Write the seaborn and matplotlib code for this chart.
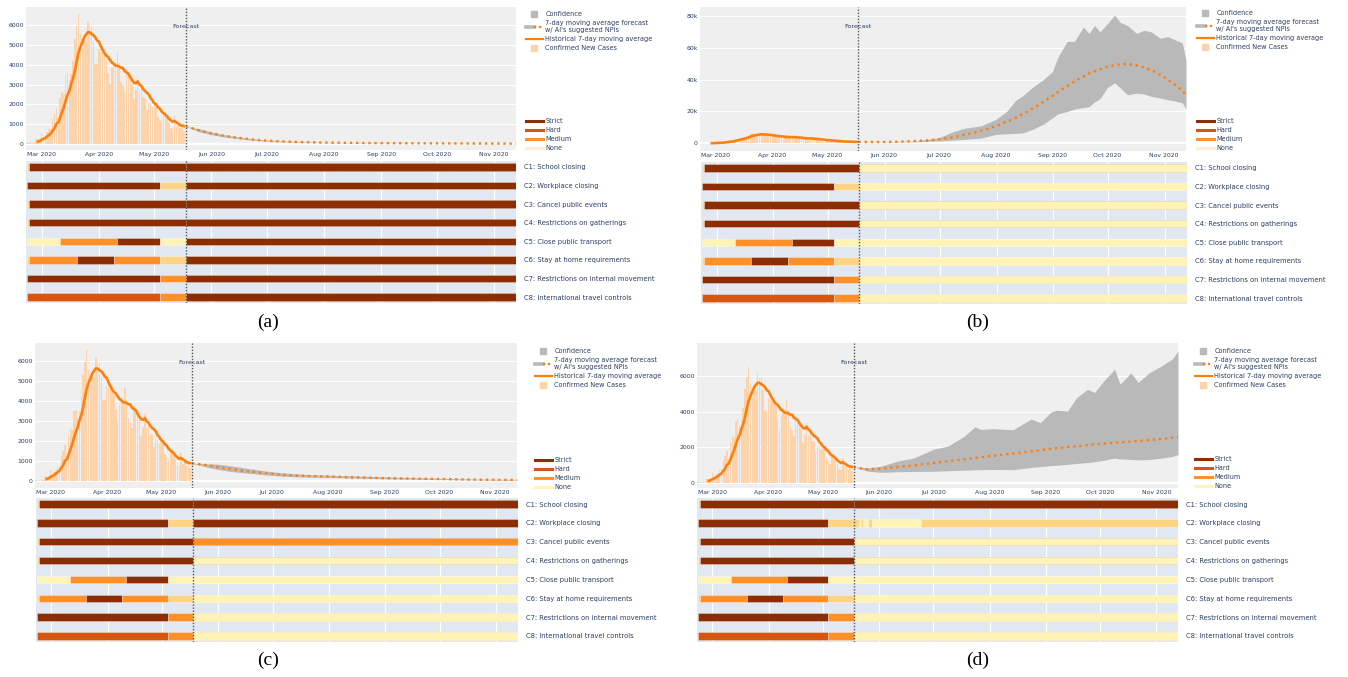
import numpy as np
import pandas as pd
import matplotlib
matplotlib.use("Agg")
import matplotlib.pyplot as plt
import matplotlib.dates as mdates
import matplotlib.transforms as mtransforms
from matplotlib.lines import Line2D
from matplotlib.legend_handler import HandlerTuple
import seaborn as sns

# ---------------------------------------------------------------- data
# Daily confirmed new cases, 22 Feb - 17 May 2020
CASES_START = "2020-02-22"
DAILY_NEW_CASES = [
    59, 71, 79, 93, 78, 250, 238, 240,
    566, 342, 466, 587, 769, 778, 1247, 1492, 1797, 977, 2313, 2651, 2547,
    3497, 3590, 3233, 3526, 4207, 5322, 5986, 6557, 5560, 4789, 5249, 5210,
    6203, 5909, 5974, 5217, 4050, 4053,
    4782, 4668, 4585, 4805, 4316, 3599, 3039, 3836, 4204, 3951, 4694, 4092,
    3153, 2972, 2667, 3786, 3493, 3491, 3047, 2256, 2729, 3370, 2646, 3021,
    2357, 2324, 1739, 2091, 2086, 1872,
    1965, 1900, 1389, 1221, 1075, 1444, 1401, 1327, 1083, 802, 744, 1402,
    888, 992, 789, 875, 675,
]

FORECAST_START = "2020-05-18"
HORIZON_END = "2020-11-13"
MONTH_TICKS = ["2020-03-01", "2020-04-01", "2020-05-01", "2020-06-01", "2020-07-01",
               "2020-08-01", "2020-09-01", "2020-10-01", "2020-11-01"]

# weekly forecast dates
FORECAST_DATES = [
    "2020-05-18", "2020-05-25", "2020-06-01", "2020-06-08", "2020-06-15", "2020-06-22",
    "2020-06-29", "2020-07-06", "2020-07-13", "2020-07-20", "2020-07-27", "2020-08-03",
    "2020-08-10", "2020-08-17", "2020-08-24", "2020-08-31", "2020-09-07", "2020-09-14",
    "2020-09-21", "2020-09-28", "2020-10-05", "2020-10-12", "2020-10-19", "2020-10-26",
    "2020-11-02", "2020-11-09", "2020-11-13",
]

# (a) strict prescription
FORECAST_A = [900, 700, 540, 410, 320, 240, 185, 145, 118, 95, 82, 72, 64, 57, 51,
              46, 42, 39, 36, 33, 31, 29, 27, 25, 23, 21, 20]
UPPER_A = [900, 780, 610, 470, 365, 280, 215, 170, 135, 110, 95, 82, 72, 64, 57,
           52, 47, 44, 40, 37, 35, 32, 30, 28, 26, 24, 23]
LOWER_A = [900, 620, 470, 355, 275, 205, 155, 120, 100, 83, 72, 63, 56, 50, 45,
           41, 37, 34, 32, 29, 27, 25, 24, 22, 20, 19, 18]

# (b) everything lifted
FORECAST_B = [900, 800, 850, 1000, 1300, 1700, 2300, 3300, 4800, 6600, 8900, 11600,
              15000, 19000, 23800, 29000, 34500, 39500, 43800, 47000, 49200, 50000,
              48500, 45500, 41000, 35000, 30600]
BAND_DATES_B = [
    "2020-05-18", "2020-06-01", "2020-06-18", "2020-07-01", "2020-07-08", "2020-07-15",
    "2020-07-24", "2020-08-01", "2020-08-07", "2020-08-12", "2020-08-16", "2020-08-21",
    "2020-08-27", "2020-09-01", "2020-09-04", "2020-09-09", "2020-09-13", "2020-09-18",
    "2020-09-21", "2020-09-24", "2020-09-27", "2020-10-01", "2020-10-05", "2020-10-08",
    "2020-10-12", "2020-10-17", "2020-10-21", "2020-10-25", "2020-10-30", "2020-11-03",
    "2020-11-07", "2020-11-11", "2020-11-13",
]
UPPER_B = [900, 1000, 1500, 3500, 7000, 9500, 11000, 15000, 20000, 27000, 30000, 35000,
           40000, 45000, 54000, 64000, 64000, 73000, 69000, 74000, 70000, 75000, 80500,
           76000, 74000, 69000, 71000, 70000, 66000, 67000, 65000, 63000, 52000]
LOWER_B = [900, 800, 1000, 1500, 2000, 2500, 3300, 5600, 6000, 6300, 6600, 8700,
           12000, 16000, 18500, 20000, 21500, 22500, 23000, 26000, 28000, 35000, 38000,
           35000, 30500, 31500, 31000, 29500, 28500, 27400, 26500, 25400, 21600]

# (c) mixed prescription
FORECAST_C = [900, 820, 710, 610, 530, 460, 385, 330, 290, 265, 250, 235, 210, 195,
              180, 160, 148, 138, 128, 118, 108, 96, 86, 80, 74, 69, 67]
UPPER_C = [900, 880, 860, 780, 680, 590, 500, 430, 380, 345, 320, 300, 280, 260, 245,
           225, 205, 190, 175, 160, 145, 130, 118, 108, 100, 92, 88]
LOWER_C = [900, 740, 600, 500, 430, 370, 310, 265, 235, 215, 200, 188, 170, 158, 145,
           130, 120, 112, 104, 96, 88, 78, 70, 64, 58, 54, 52]

# (d) school closing only
FORECAST_D = [900, 760, 800, 870, 940, 1010, 1100, 1190, 1280, 1360, 1450, 1530, 1620,
              1700, 1790, 1880, 1960, 2030, 2100, 2180, 2240, 2290, 2340, 2400, 2460,
              2540, 2580]
BAND_DATES_D = [
    "2020-05-18", "2020-05-26", "2020-06-02", "2020-06-11", "2020-06-20", "2020-07-01",
    "2020-07-09", "2020-07-18", "2020-07-24", "2020-07-27", "2020-08-03", "2020-08-14",
    "2020-08-18", "2020-08-24", "2020-08-29", "2020-09-04", "2020-09-07", "2020-09-13",
    "2020-09-18", "2020-09-24", "2020-09-28", "2020-10-03", "2020-10-09", "2020-10-12",
    "2020-10-18", "2020-10-22", "2020-10-28", "2020-11-04", "2020-11-10", "2020-11-13",
]
UPPER_D = [900, 860, 940, 1230, 1400, 1900, 2075, 2640, 3170, 3020, 3060, 3000, 3250,
           3600, 3400, 4000, 4100, 4050, 4800, 5280, 5100, 5750, 6400, 5570, 6200, 5660,
           6200, 6600, 7000, 7450]
LOWER_D = [900, 660, 600, 630, 650, 660, 690, 720, 740, 750, 760, 750, 800, 880, 920,
           980, 1000, 1050, 1100, 1150, 1200, 1280, 1400, 1350, 1330, 1300, 1320, 1400,
           1500, 1600]

NPI_LABELS = [
    "C1: School closing", "C2: Workplace closing", "C3: Cancel public events",
    "C4: Restrictions on gatherings", "C5: Close public transport",
    "C6: Stay at home requirements", "C7: Restrictions on internal movement",
    "C8: International travel controls",
]
# stringency levels: 0 none, 1 light, 2 medium, 3 hard, 4 strict
LEGEND_LEVELS = ["Strict", "Hard", "Medium", "None"]

# recorded measures, as (date of change, level)
NPI_HISTORY = [
    [("2020-02-22", 1), ("2020-02-23", 4)],
    [("2020-02-22", 4), ("2020-05-04", 1)],
    [("2020-02-22", 1), ("2020-02-23", 4)],
    [("2020-02-22", 1), ("2020-02-23", 4)],
    [("2020-02-22", 0), ("2020-03-11", 2), ("2020-04-11", 4), ("2020-05-04", 0)],
    [("2020-02-22", 1), ("2020-02-23", 2), ("2020-03-20", 4), ("2020-04-09", 2), ("2020-05-04", 1)],
    [("2020-02-22", 4), ("2020-05-04", 2)],
    [("2020-02-22", 3), ("2020-05-04", 2)],
]

# suggested measures from the forecast start on
PRESCRIBED_A = [[("2020-05-18", 4)], [("2020-05-18", 4)], [("2020-05-18", 4)], [("2020-05-18", 4)],
                [("2020-05-18", 4)], [("2020-05-18", 4)], [("2020-05-18", 4)], [("2020-05-18", 4)]]
PRESCRIBED_B = [[("2020-05-18", 0)], [("2020-05-18", 0)], [("2020-05-18", 0)], [("2020-05-18", 0)],
                [("2020-05-18", 0)], [("2020-05-18", 0)], [("2020-05-18", 0)], [("2020-05-18", 0)]]
PRESCRIBED_C = [[("2020-05-18", 4)], [("2020-05-18", 4)], [("2020-05-18", 2)], [("2020-05-18", 0)],
                [("2020-05-18", 0)], [("2020-05-18", 0)], [("2020-05-18", 0)], [("2020-05-18", 0)]]
PRESCRIBED_D = [
    [("2020-05-18", 4)],
    [("2020-05-18", 1), ("2020-05-21", 0), ("2020-05-22", 1), ("2020-05-23", 0),
     ("2020-05-24", 1), ("2020-05-25", 0), ("2020-05-26", 1), ("2020-05-28", 0),
     ("2020-06-24", 1)],
    [("2020-05-18", 0)], [("2020-05-18", 0)], [("2020-05-18", 0)],
    [("2020-05-18", 0)], [("2020-05-18", 0)], [("2020-05-18", 0)],
]

# ---------------------------------------------------------------- style
LEVEL_COLORS = {0: "#fff4b6", 1: "#fdd385", 2: "#fe9029", 3: "#d6560f", 4: "#8c2d04"}
LEGEND_COLORS = {"Strict": LEVEL_COLORS[4], "Hard": LEVEL_COLORS[3],
                 "Medium": LEVEL_COLORS[2], "None": LEVEL_COLORS[0]}
LINE_COLOR = "#ff7f0e"
BAR_COLOR = "#fcd3ab"
BAND_COLOR = "#b9b9b9"
TOP_BG = "#efefef"
BOTTOM_BG = "#e2e8f1"
TEXT_COLOR = "#2a3f5f"

plt.rcParams["font.family"] = ["DejaVu Sans"]

W, H = 1348, 677
fig = plt.figure(figsize=(W / 100, H / 100), dpi=100)


def box(l, t, r, b):
    return [l / W, 1 - b / H, (r - l) / W, (b - t) / H]


def dnum(d):
    return mdates.date2num(pd.Timestamp(d))


case_dates = pd.date_range(CASES_START, periods=len(DAILY_NEW_CASES), freq="D")
case_x = mdates.date2num(case_dates)
cases = pd.Series(DAILY_NEW_CASES, dtype=float)
moving_avg = cases.rolling(7).mean()
ma_mask = moving_avg.notna().values

x_lo = case_x[0] - 0.5
x_hi = dnum(HORIZON_END)
fc_x0 = dnum(FORECAST_START)
month_x = [dnum(m) for m in MONTH_TICKS]
month_lbl = [pd.Timestamp(m).strftime("%b %Y") for m in MONTH_TICKS]


def segments(changes):
    out = []
    for i, (d, lvl) in enumerate(changes):
        end = changes[i + 1][0] if i + 1 < len(changes) else HORIZON_END
        out.append((dnum(d), dnum(end) - dnum(d), lvl))
    return out


def draw_top(ax, fc, band_dates, upper, lower, ylim, yticks, kfmt, fc_text_y):
    ax.set_facecolor(TOP_BG)
    for s in ax.spines.values():
        s.set_visible(False)
    ax.bar(case_x, cases, width=0.8, color=BAR_COLOR, linewidth=0, zorder=2)
    bx = [dnum(d) for d in band_dates]
    ax.fill_between(bx, lower, upper, color=BAND_COLOR, linewidth=0, zorder=3)
    sns.lineplot(x=case_x[ma_mask], y=moving_avg.values[ma_mask], ax=ax, color=LINE_COLOR,
                 lw=1.9, estimator=None, zorder=4)
    fx = [dnum(d) for d in FORECAST_DATES]
    sns.lineplot(x=fx, y=fc, ax=ax, color=LINE_COLOR, lw=1.7, estimator=None,
                 linestyle=(0, (1, 1.6)), zorder=5)
    ax.axvline(fc_x0, color="#555555", lw=1.0, ls=(0, (1, 1.2)), zorder=6)
    trans = mtransforms.blended_transform_factory(ax.transData, ax.transAxes)
    ax.text(fc_x0, fc_text_y, "Forecast", transform=trans, ha="center", va="center",
            fontsize=4.6, color=TEXT_COLOR, zorder=7)
    ax.set_xlim(x_lo, x_hi)
    ax.set_ylim(*ylim)
    ax.set_xticks(month_x)
    ax.set_xticklabels(month_lbl)
    ax.set_yticks(yticks)
    if kfmt:
        ax.set_yticklabels(["0" if v == 0 else f"{int(v / 1000)}k" for v in yticks])
    else:
        ax.set_yticklabels([str(v) for v in yticks])
    ax.grid(axis="y", color="white", lw=0.8)
    ax.grid(axis="x", visible=False)
    ax.axhline(0, color="white", lw=1.6, zorder=1)
    ax.set_axisbelow(True)
    ax.tick_params(length=0, labelsize=4.4, labelcolor=TEXT_COLOR, pad=1.5)
    ax.set_xlabel("")
    ax.set_ylabel("")


def draw_bottom(ax, prescribed):
    ax.set_facecolor(BOTTOM_BG)
    for s in ax.spines.values():
        s.set_visible(False)
    for row in range(len(NPI_LABELS)):
        for left, width, lvl in segments(NPI_HISTORY[row]) + segments(prescribed[row]):
            if dnum(NPI_HISTORY[row][0][0]) <= left and (left < fc_x0 or width > 0):
                pass
            ax.barh(row, width, left=left, height=0.4, color=LEVEL_COLORS[lvl],
                    edgecolor=(1, 1, 1, 0.55), linewidth=0.4, zorder=2)
    ax.axvline(fc_x0, color="#555555", lw=1.0, ls=(0, (1, 1.2)), zorder=6)
    ax.set_xlim(x_lo, x_hi)
    ax.set_ylim(len(NPI_LABELS) - 1 + 0.32, -0.32)
    ax.set_xticks(month_x)
    ax.set_yticks(range(len(NPI_LABELS)))
    ax.set_yticklabels(NPI_LABELS)
    ax.yaxis.tick_right()
    ax.grid(axis="x", color="white", lw=0.9)
    ax.set_axisbelow(True)
    ax.tick_params(axis="x", length=0, labelbottom=False)
    ax.tick_params(axis="y", length=0, labelsize=4.9, labelcolor=TEXT_COLOR, pad=6)


def draw_legends(x_px, top_px, npi_top_px):
    fs = 4.7
    handles = [
        Line2D([], [], ls="none", marker="s", ms=4.3, color=BAND_COLOR),
        (Line2D([], [], color=BAND_COLOR, lw=2.6),
         Line2D([], [], color=LINE_COLOR, lw=1.6, ls=(0, (1, 1.2)))),
        Line2D([], [], color=LINE_COLOR, lw=1.6),
        Line2D([], [], ls="none", marker="s", ms=4.3, color=BAR_COLOR),
    ]
    labels = ["Confidence", "7-day moving average forecast\nw/ AI's suggested NPIs",
              "Historical 7-day moving average", "Confirmed New Cases"]
    fig.legend(handles, labels, loc="upper left", bbox_to_anchor=(x_px / W, 1 - top_px / H),
               bbox_transform=fig.transFigure, frameon=False, fontsize=fs, borderpad=0,
               borderaxespad=0, handlelength=2.6, handletextpad=0.35, labelspacing=0.45,
               labelcolor=TEXT_COLOR, handler_map={tuple: HandlerTuple(ndivide=None)})
    npi_handles = [Line2D([], [], color=LEGEND_COLORS[n], lw=2.2) for n in LEGEND_LEVELS]
    fig.legend(npi_handles, LEGEND_LEVELS, loc="upper left",
               bbox_to_anchor=(x_px / W, 1 - npi_top_px / H), bbox_transform=fig.transFigure,
               frameon=False, fontsize=fs, borderpad=0, borderaxespad=0, handlelength=2.6,
               handletextpad=0.35, labelspacing=0.45, labelcolor=TEXT_COLOR)


PANELS = [
    dict(cap="(a)", top=(26, 7, 516, 150), bot=(26, 161, 516, 303), leg=(526, 11, 118),
         cap_xy=(268, 322), fc=FORECAST_A, bd=FORECAST_DATES, up=UPPER_A, lo=LOWER_A,
         ylim=(-302, 6924), yt=[0, 1000, 2000, 3000, 4000, 5000, 6000], k=False,
         rx=PRESCRIBED_A),
    dict(cap="(b)", top=(700, 7, 1186, 151), bot=(701, 162, 1187, 304), leg=(1197, 10, 118),
         cap_xy=(978, 322), fc=FORECAST_B, bd=BAND_DATES_B, up=UPPER_B, lo=LOWER_B,
         ylim=(-4800, 85600), yt=[0, 20000, 40000, 60000, 80000], k=True,
         rx=PRESCRIBED_B),
    dict(cap="(c)", top=(35, 343, 517, 488), bot=(36, 498, 518, 642), leg=(535, 348, 457),
         cap_xy=(268, 660), fc=FORECAST_C, bd=FORECAST_DATES, up=UPPER_C, lo=LOWER_C,
         ylim=(-335, 6921), yt=[0, 1000, 2000, 3000, 4000, 5000, 6000], k=False,
         rx=PRESCRIBED_C),
    dict(cap="(d)", top=(697, 343, 1178, 488), bot=(697, 498, 1178, 642), leg=(1195, 348, 456),
         cap_xy=(978, 660), fc=FORECAST_D, bd=BAND_DATES_D, up=UPPER_D, lo=LOWER_D,
         ylim=(-283, 7887), yt=[0, 2000, 4000, 6000], k=False,
         rx=PRESCRIBED_D),
]

for p in PANELS:
    ax_t = fig.add_axes(box(*p["top"]))
    t = p["top"]
    draw_top(ax_t, p["fc"], p["bd"], p["up"], p["lo"], p["ylim"], p["yt"], p["k"],
             1 - 20 / (t[3] - t[1]))
    ax_b = fig.add_axes(box(*p["bot"]))
    draw_bottom(ax_b, p["rx"])
    draw_legends(*p["leg"])
    fig.text(p["cap_xy"][0] / W, 1 - p["cap_xy"][1] / H, p["cap"], ha="center", va="center",
             fontsize=14, family=["Liberation Serif", "DejaVu Serif"], color="black")

fig.savefig("out.png", dpi=100, facecolor="white")
